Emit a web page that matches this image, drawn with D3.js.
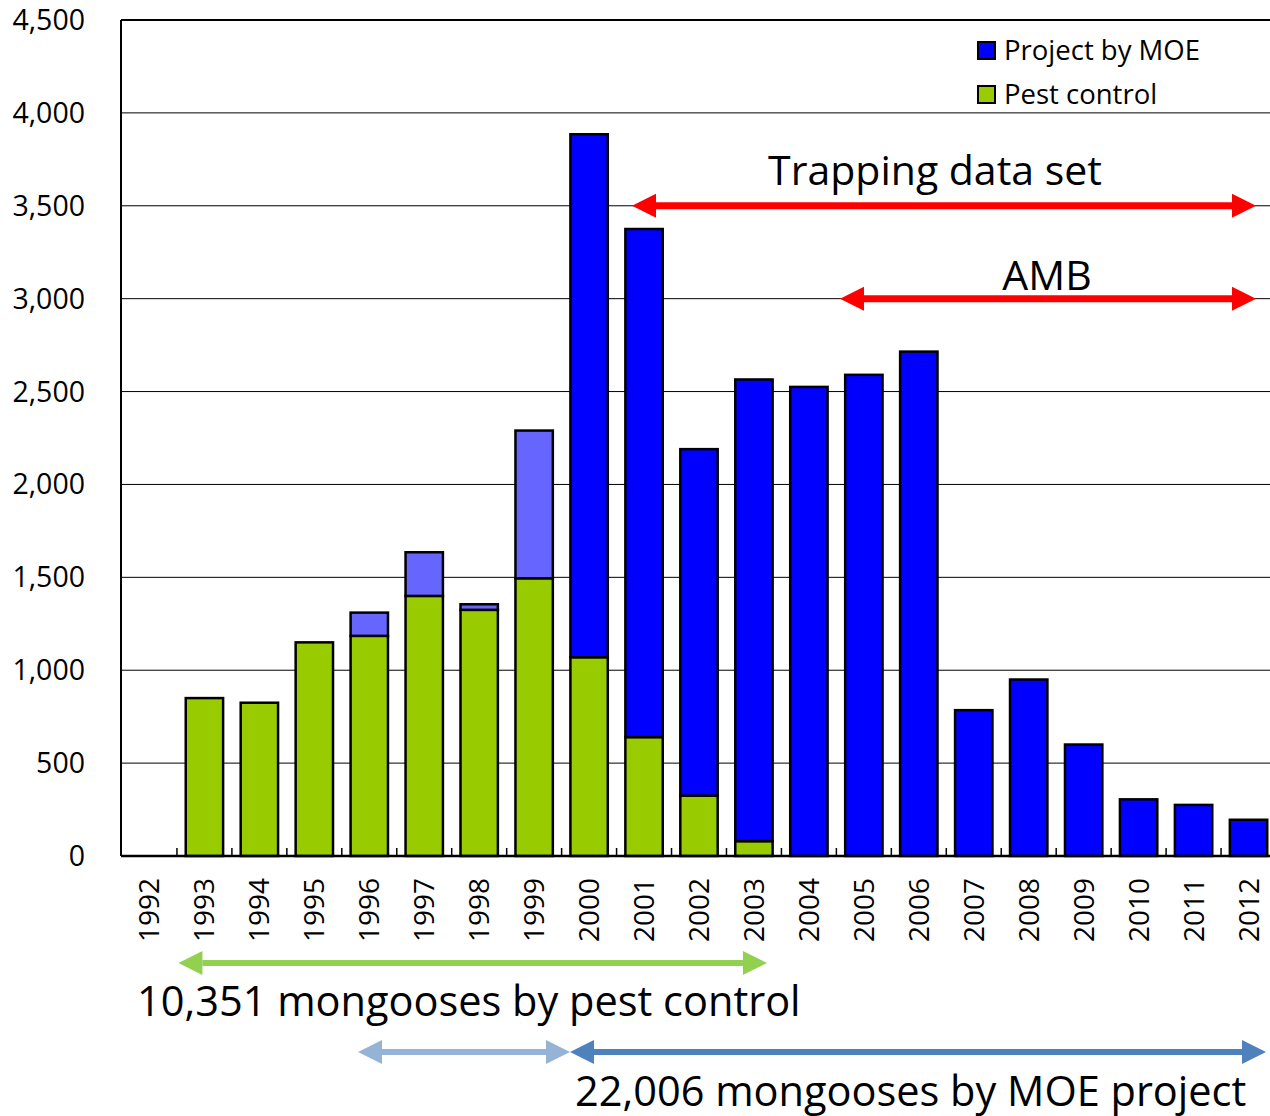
<!DOCTYPE html>
<html>
<head>
<meta charset="utf-8">
<script src="https://cdn.jsdelivr.net/npm/d3@7"></script>
<style>
  body { margin: 0; background: #fff; }
  text { font-family: "Open Sans", sans-serif; fill: #000; }
</style>
</head>
<body>
<svg width="1270" height="1116"></svg>
<script>
// data
var years = [1992, 1993, 1994, 1995, 1996, 1997, 1998, 1999, 2000, 2001, 2002,
  2003, 2004, 2005, 2006, 2007, 2008, 2009, 2010, 2011, 2012];
var pestControl = [0, 850, 825, 1150, 1185, 1400, 1325, 1495, 1070, 640, 325,
  80, 0, 0, 0, 0, 0, 0, 0, 0, 0];
var moeEarly = [0, 0, 0, 0, 125, 235, 30, 795, 0, 0, 0,
  0, 0, 0, 0, 0, 0, 0, 0, 0, 0];
var moeProject = [0, 0, 0, 0, 0, 0, 0, 0, 2815, 2735, 1865,
  2485, 2525, 2590, 2715, 785, 950, 600, 305, 275, 195];
var yTicks = [0, 500, 1000, 1500, 2000, 2500, 3000, 3500, 4000, 4500];

var svg = d3.select("svg");
var plotLeft = 121, plotRight = 1276, plotTop = 20, plotBottom = 856;

var x = d3.scaleBand().domain(years).range([plotLeft + 1, plotRight]).paddingInner(0.32).paddingOuter(0.16);
var y = d3.scaleLinear().domain([0, 4500]).range([plotBottom, plotTop]);
var step = x.step();

// gridlines
svg.append("g")
  .selectAll("line")
  .data(yTicks.slice(1))
  .enter()
  .append("line")
  .attr("x1", plotLeft).attr("x2", 1270)
  .attr("y1", d => y(d)).attr("y2", d => y(d))
  .attr("stroke", "#000").attr("stroke-width", 1);

// y labels
svg.append("g")
  .selectAll("text")
  .data(yTicks)
  .enter()
  .append("text")
  .attr("x", 85)
  .attr("y", d => y(d) + 10)
  .attr("text-anchor", "end")
  .style("font-size", "28.5px")
  .text(d => d3.format(",")(d));

// stacked bars
var stacks = years.map(function (yr, i) {
  return [
    { y0: 0, y1: pestControl[i], fill: "#99CC00" },
    { y0: pestControl[i], y1: pestControl[i] + moeEarly[i], fill: "#6666FF" },
    { y0: pestControl[i] + moeEarly[i], y1: pestControl[i] + moeEarly[i] + moeProject[i], fill: "#0000FF" }
  ].filter(s => s.y1 > s.y0).map(s => Object.assign({ year: yr }, s));
});
svg.append("g")
  .selectAll("rect")
  .data(stacks.flat())
  .enter()
  .append("rect")
  .attr("x", d => x(d.year))
  .attr("width", x.bandwidth())
  .attr("y", d => y(d.y1))
  .attr("height", d => y(d.y0) - y(d.y1))
  .attr("fill", d => d.fill)
  .attr("stroke", "#000")
  .attr("stroke-width", 2.5);

// axes frame
svg.append("line").attr("x1", plotLeft).attr("x2", plotLeft).attr("y1", plotTop).attr("y2", plotBottom)
  .attr("stroke", "#000").attr("stroke-width", 2);
svg.append("line").attr("x1", plotLeft).attr("x2", 1270).attr("y1", plotTop).attr("y2", plotTop)
  .attr("stroke", "#000").attr("stroke-width", 2);
svg.append("line").attr("x1", plotLeft).attr("x2", 1270).attr("y1", plotBottom).attr("y2", plotBottom)
  .attr("stroke", "#000").attr("stroke-width", 2.5);

// small category ticks pointing up
svg.append("g")
  .selectAll("line")
  .data(years.slice(1))
  .enter()
  .append("line")
  .attr("x1", d => x(d) - step * 0.16)
  .attr("x2", d => x(d) - step * 0.16)
  .attr("y1", plotBottom).attr("y2", plotBottom - 8)
  .attr("stroke", "#000").attr("stroke-width", 1.5);

// x labels rotated
svg.append("g")
  .selectAll("text")
  .data(years)
  .enter()
  .append("text")
  .attr("transform", d => "translate(" + (x(d) + x.bandwidth() / 2 + 10) + ",878) rotate(-90)")
  .attr("text-anchor", "end")
  .style("font-size", "28px")
  .text(d => d);

// legend
var legend = [["Project by MOE", "#0000FF"], ["Pest control", "#99CC00"]];
legend.forEach(function (l, i) {
  svg.append("rect").attr("x", 978).attr("y", 42 + i * 44).attr("width", 17).attr("height", 17)
    .attr("fill", l[1]).attr("stroke", "#000").attr("stroke-width", 2);
  svg.append("text").attr("x", 1004).attr("y", 60 + i * 44).style("font-size", "27.5px").text(l[0]);
});

// double-headed arrows
function arrow(x1, x2, yy, color, w, head) {
  var g = svg.append("g");
  g.append("line").attr("x1", x1 + head).attr("x2", x2 - head).attr("y1", yy).attr("y2", yy)
    .attr("stroke", color).attr("stroke-width", w);
  g.append("path").attr("d", "M" + x1 + "," + yy + "L" + (x1 + head) + "," + (yy - head / 2) + "L" + (x1 + head) + "," + (yy + head / 2) + "Z")
    .attr("fill", color);
  g.append("path").attr("d", "M" + x2 + "," + yy + "L" + (x2 - head) + "," + (yy - head / 2) + "L" + (x2 - head) + "," + (yy + head / 2) + "Z")
    .attr("fill", color);
}
var cx = d => x(d) + x.bandwidth() / 2;

arrow(632, 1256, y(3500), "#FF0000", 7, 24);
arrow(840, 1256, y(3000), "#FF0000", 7, 24);
svg.append("text").attr("x", 935).attr("y", 185).attr("text-anchor", "middle")
  .style("font-size", "41px").text("Trapping data set");
svg.append("text").attr("x", 1047).attr("y", 290).attr("text-anchor", "middle")
  .style("font-size", "41px").text("AMB");

arrow(cx(1993) - 26, cx(2003) + 13, 963, "#92D050", 6, 24);
svg.append("text").attr("x", 137).attr("y", 1016).style("font-size", "41.5px")
  .text("10,351 mongooses by pest control");

arrow(358, 570, 1052, "#95B3D7", 6, 24);
arrow(570, 1266, 1052, "#4F81BD", 6, 24);
svg.append("text").attr("x", 575).attr("y", 1106).style("font-size", "41.5px")
  .text("22,006 mongooses by MOE project");
</script>
</body>
</html>
